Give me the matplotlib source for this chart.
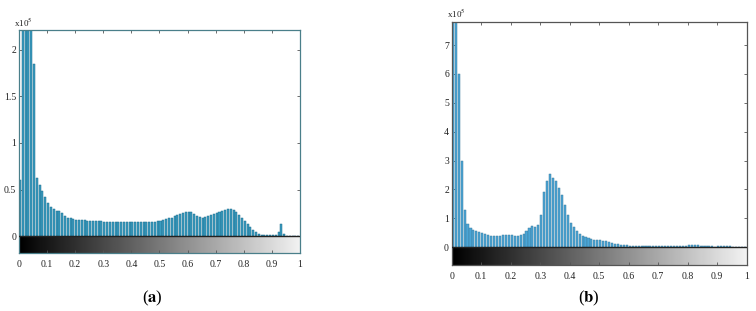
import numpy as np
import matplotlib
matplotlib.use("Agg")
import matplotlib.pyplot as plt

# histogram counts (x1e5), 100 bins of width 0.01 on [0, 1]
bin_edges = np.linspace(0, 1, 101)

hist_a = [0.6, 2.5, 3.0, 2.8, 2.3, 1.85, 0.62, 0.55, 0.48, 0.42,
          0.36, 0.31, 0.29, 0.27, 0.27, 0.25, 0.22, 0.20, 0.19, 0.18,
          0.175, 0.17, 0.17, 0.17, 0.165, 0.165, 0.16, 0.16, 0.16, 0.16,
          0.155, 0.155, 0.15, 0.15, 0.15, 0.15, 0.15, 0.15, 0.155, 0.155,
          0.155, 0.15, 0.15, 0.155, 0.155, 0.155, 0.155, 0.155, 0.155, 0.16,
          0.165, 0.17, 0.18, 0.19, 0.20, 0.215, 0.23, 0.24, 0.25, 0.26,
          0.26, 0.255, 0.24, 0.22, 0.21, 0.20, 0.21, 0.22, 0.23, 0.24,
          0.25, 0.26, 0.27, 0.28, 0.29, 0.29, 0.28, 0.26, 0.23, 0.20,
          0.16, 0.13, 0.10, 0.07, 0.04, 0.025, 0.015, 0.01, 0.01, 0.01,
          0.01, 0.01, 0.05, 0.13, 0.02, 0.0, 0.0, 0.0, 0.0, 0.0]

hist_b = [14.0, 11.0, 6.0, 3.0, 1.3, 0.8, 0.65, 0.6, 0.55, 0.52,
          0.48, 0.45, 0.42, 0.40, 0.38, 0.38, 0.40, 0.42, 0.43, 0.42,
          0.41, 0.40, 0.40, 0.42, 0.46, 0.55, 0.65, 0.72, 0.70, 0.75,
          1.1, 1.9, 2.3, 2.55, 2.4, 2.3, 2.05, 1.8, 1.45, 1.1,
          0.85, 0.68, 0.55, 0.47, 0.40, 0.35, 0.31, 0.28, 0.26, 0.24,
          0.23, 0.22, 0.20, 0.18, 0.15, 0.12, 0.10, 0.08, 0.07, 0.06,
          0.05, 0.04, 0.04, 0.04, 0.04, 0.04, 0.03, 0.03, 0.03, 0.03,
          0.03, 0.04, 0.04, 0.04, 0.04, 0.04, 0.05, 0.05, 0.05, 0.05,
          0.07, 0.08, 0.07, 0.06, 0.05, 0.04, 0.03, 0.03, 0.03, 0.02,
          0.05, 0.05, 0.05, 0.05, 0.03, 0.01, 0.01, 0.01, 0.01, 0.01]

xticks = [0, 0.1, 0.2, 0.3, 0.4, 0.5, 0.6, 0.7, 0.8, 0.9, 1]
xticklabels = ['0', '0.1', '0.2', '0.3', '0.4', '0.5', '0.6', '0.7', '0.8', '0.9', '1']
yticks_a = [0, 0.5, 1, 1.5, 2]
yticklabels_a = ['0', '0.5', '1', '1.5', '2']
yticks_b = [0, 1, 2, 3, 4, 5, 6, 7]
yticklabels_b = ['0', '1', '2', '3', '4', '5', '6', '7']

plt.rcParams['font.family'] = ['Liberation Serif', 'DejaVu Serif']
plt.rcParams['mathtext.fontset'] = 'stix'

fig = plt.figure(figsize=(7.56, 3.11), dpi=100)


def draw_panel(rect, hist, ylim, yticks, yticklabels, face, edge, frame, letter, lab_xy, exp_xy):
    ax = fig.add_axes(rect)
    lefts = bin_edges[:-1]
    width = np.diff(bin_edges)
    ax.bar(lefts, hist, width=width * 0.72, align='edge', color=face,
           edgecolor=edge, linewidth=0.35, zorder=2)
    # grayscale strip under the zero line
    grad = np.linspace(0, 0.95, 256).reshape(1, -1)
    ax.imshow(grad, cmap='gray', vmin=0, vmax=1, aspect='auto',
              extent=[0, 1, ylim[0], 0], zorder=1)
    ax.axhline(0, color='#222222', linewidth=1.0, zorder=3)
    ax.set_xlim(0, 1)
    ax.set_ylim(*ylim)
    ax.set_xticks(xticks)
    ax.set_xticklabels(xticklabels)
    ax.set_yticks(yticks)
    ax.set_yticklabels(yticklabels)
    ax.tick_params(direction='in', length=2.5, width=0.6, labelsize=7,
                   top=True, right=True, colors='#555555', labelcolor='#222222')
    ax.tick_params(axis='y', pad=2)
    ax.tick_params(axis='x', pad=5)
    for s in ax.spines.values():
        s.set_color(frame)
        s.set_linewidth(0.9)
    fig.text(exp_xy[0], exp_xy[1], r'x10$^5$', fontsize=6.5, color='#222222',
             ha='left', va='center')
    fig.text(lab_xy[0], lab_xy[1], '(' + r'$\mathbf{' + letter + '}$' + ')',
             fontsize=12, ha='center', va='center', color='black')
    return ax


draw_panel([0.0251, 0.1865, 0.3717, 0.717], hist_a, (-0.18, 2.21),
           yticks_a, yticklabels_a, '#3a9cc0', '#1f6d8c', '#4a7f8a',
           'a', (0.202, 0.042), (0.018, 0.925))
draw_panel([0.5975, 0.1479, 0.3902, 0.7814], hist_b, (-0.62, 7.8),
           yticks_b, yticklabels_b, '#4aa5d6', '#3f7f9f', '#555555',
           'b', (0.779, 0.042), (0.591, 0.955))

fig.savefig('out.png', dpi=100)
